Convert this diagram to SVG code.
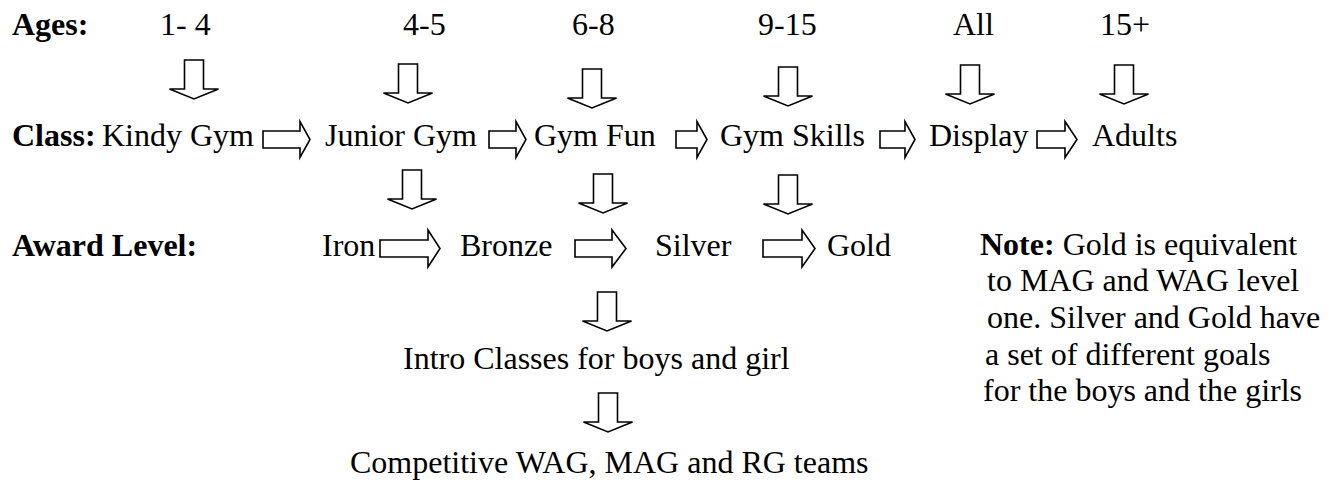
<svg xmlns="http://www.w3.org/2000/svg" xmlns:xlink="http://www.w3.org/1999/xlink" width="1331" height="483" viewBox="0 0 1331 483">
<style>
text{font-family:"Liberation Serif","Times New Roman",serif;font-size:32px;fill:#000}
.b{font-weight:bold}
.arr{fill:#fff;stroke:#000;stroke-width:1.6;stroke-linejoin:miter}
</style>
<defs>
<path id="down" d="M-9.5,-39 H9.5 V-10 H24.5 L0,0 L-24.5,-10 H-9.5 Z"/>
</defs>
<rect width="1331" height="483" fill="#fff"/>
<g id="labels">
<text class="b" x="12" y="35">Ages:</text>
<text class="b" x="12" y="146">Class:</text>
<text class="b" x="12" y="256">Award Level:</text>
</g>
<g id="ages">
<text x="160" y="35">1- 4</text>
<text x="403" y="35">4-5</text>
<text x="572" y="35">6-8</text>
<text x="758" y="35">9-15</text>
<text x="953" y="35">All</text>
<text x="1100" y="35">15+</text>
</g>
<g id="kindy"><text x="102" y="146">Kindy Gym</text></g>
<g id="junior"><text x="325" y="146">Junior Gym</text></g>
<g id="gymfun"><text x="534" y="146">Gym Fun</text></g>
<g id="gymskills"><text x="720" y="146">Gym Skills</text></g>
<g id="display"><text x="929" y="146">Display</text></g>
<g id="adults"><text x="1092" y="146">Adults</text></g>
<g id="iron"><text x="322" y="256">Iron</text></g>
<g id="bronze"><text x="460" y="256">Bronze</text></g>
<g id="silver"><text x="655" y="256">Silver</text></g>
<g id="gold"><text x="827" y="256">Gold</text></g>
<g id="intro"><text x="403" y="369">Intro Classes for boys and girl</text></g>
<g id="competitive"><text x="350" y="473">Competitive WAG, MAG and RG teams</text></g>
<g id="note">
<text x="980" y="255"><tspan class="b">Note:</tspan> Gold is equivalent</text>
<text x="987" y="291">to MAG and WAG level</text>
<text x="987" y="328">one. Silver and Gold have</text>
<text x="985" y="365">a set of different goals</text>
<text x="983" y="401">for the boys and the girls</text>
</g>
<g id="connectors">
<use href="#down" class="arr" transform="translate(194,99)"/>
<use href="#down" class="arr" transform="translate(408,103)"/>
<use href="#down" class="arr" transform="translate(592,108)"/>
<use href="#down" class="arr" transform="translate(788,106)"/>
<use href="#down" class="arr" transform="translate(970,104)"/>
<use href="#down" class="arr" transform="translate(1124,104)"/>
<use href="#down" class="arr" transform="translate(412,209)"/>
<use href="#down" class="arr" transform="translate(603,213)"/>
<use href="#down" class="arr" transform="translate(788,214)"/>
<use href="#down" class="arr" transform="translate(607,331)"/>
<use href="#down" class="arr" transform="translate(608,432)"/>
<path class="arr" d="M263,131 H300 V121.5 L310,139.5 L300,157.5 V148 H263 Z"/>
<path class="arr" d="M489,131 H516 V121.5 L526,139.5 L516,157.5 V148 H489 Z"/>
<path class="arr" d="M676,131 H697 V121.5 L707,139.5 L697,157.5 V148 H676 Z"/>
<path class="arr" d="M880,131 H905 V121.5 L915,139.5 L905,157.5 V148 H880 Z"/>
<path class="arr" d="M1037,131 H1065 V121.5 L1077,139.5 L1065,157.5 V148 H1037 Z"/>
<path class="arr" d="M380,240 H428 V230 L440,248.5 L428,267 V257 H380 Z"/>
<path class="arr" d="M575,240 H612 V230 L626,248.5 L612,267 V257 H575 Z"/>
<path class="arr" d="M763,240 H802 V230 L815,248.5 L802,267 V257 H763 Z"/>
</g>
</svg>
